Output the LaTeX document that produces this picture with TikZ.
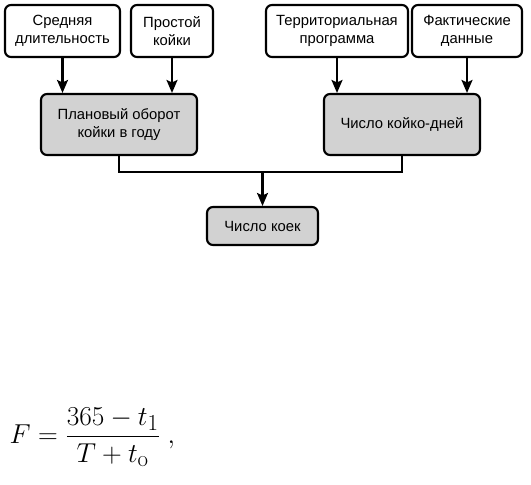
\documentclass[tikz,border=0pt]{standalone}
\usepackage{amsmath}
\usepackage{graphicx}
\usepackage[no-math]{fontspec}
\setmainfont{Liberation Sans}
\usetikzlibrary{arrows.meta,positioning}

\begin{document}
\begin{tikzpicture}[
  x=1pt,y=-1pt,
  font=\fontsize{14.8}{18}\selectfont,
  source/.style={draw,line width=2.1pt,rounded corners=6pt,fill=white,align=center,minimum height=52pt,inner sep=2pt},
  result/.style={source,fill=gray!35,minimum height=61pt},
  arrow/.style={-{Stealth[length=13pt,width=11pt,inset=2.5pt]},line width=2.1pt},
]
\useasboundingbox (0,0) rectangle (531,485);
\node[source,minimum width=115pt] (dur)   at (62.5,31) {Средняя\\длительность};
\node[source,minimum width=82pt]  (idle)  at (172,31)  {Простой\\койки};
\node[source,minimum width=142pt] (prog)  at (337,31)  {Территориальная\\программа};
\node[source,minimum width=110pt] (fact)  at (467,31)  {Фактические\\данные};
\node[result,minimum width=156pt] (turn)  at (119,124.5) {Плановый оборот\\койки в году};
\node[result,minimum width=156pt] (days)  at (402,124.5) {Число койко-дней};
\node[result,minimum width=111pt,minimum height=38pt] (beds) at (262.5,226) {Число коек};
\coordinate (join) at (262.5,172);
\draw[arrow] (dur.south)  -- (dur.south |- turn.north);
\draw[arrow] (idle.south) -- (idle.south |- turn.north);
\draw[arrow] (prog.south) -- (prog.south |- days.north);
\draw[arrow] (fact.south) -- (fact.south |- days.north);
\draw[line width=2.1pt] (turn.south) |- (join) -| (days.south);
\draw[arrow] (join) -- (beds.north);
% formula below the scheme
\node[anchor=west,font=\fontsize{24.88}{30}\selectfont] (formula) at (6,437)
  {\scalebox{1.1}{$F = \dfrac{365 - t_1}{T + t_{\mathrm{o}}}\ ,$}};
\end{tikzpicture}
\end{document}
